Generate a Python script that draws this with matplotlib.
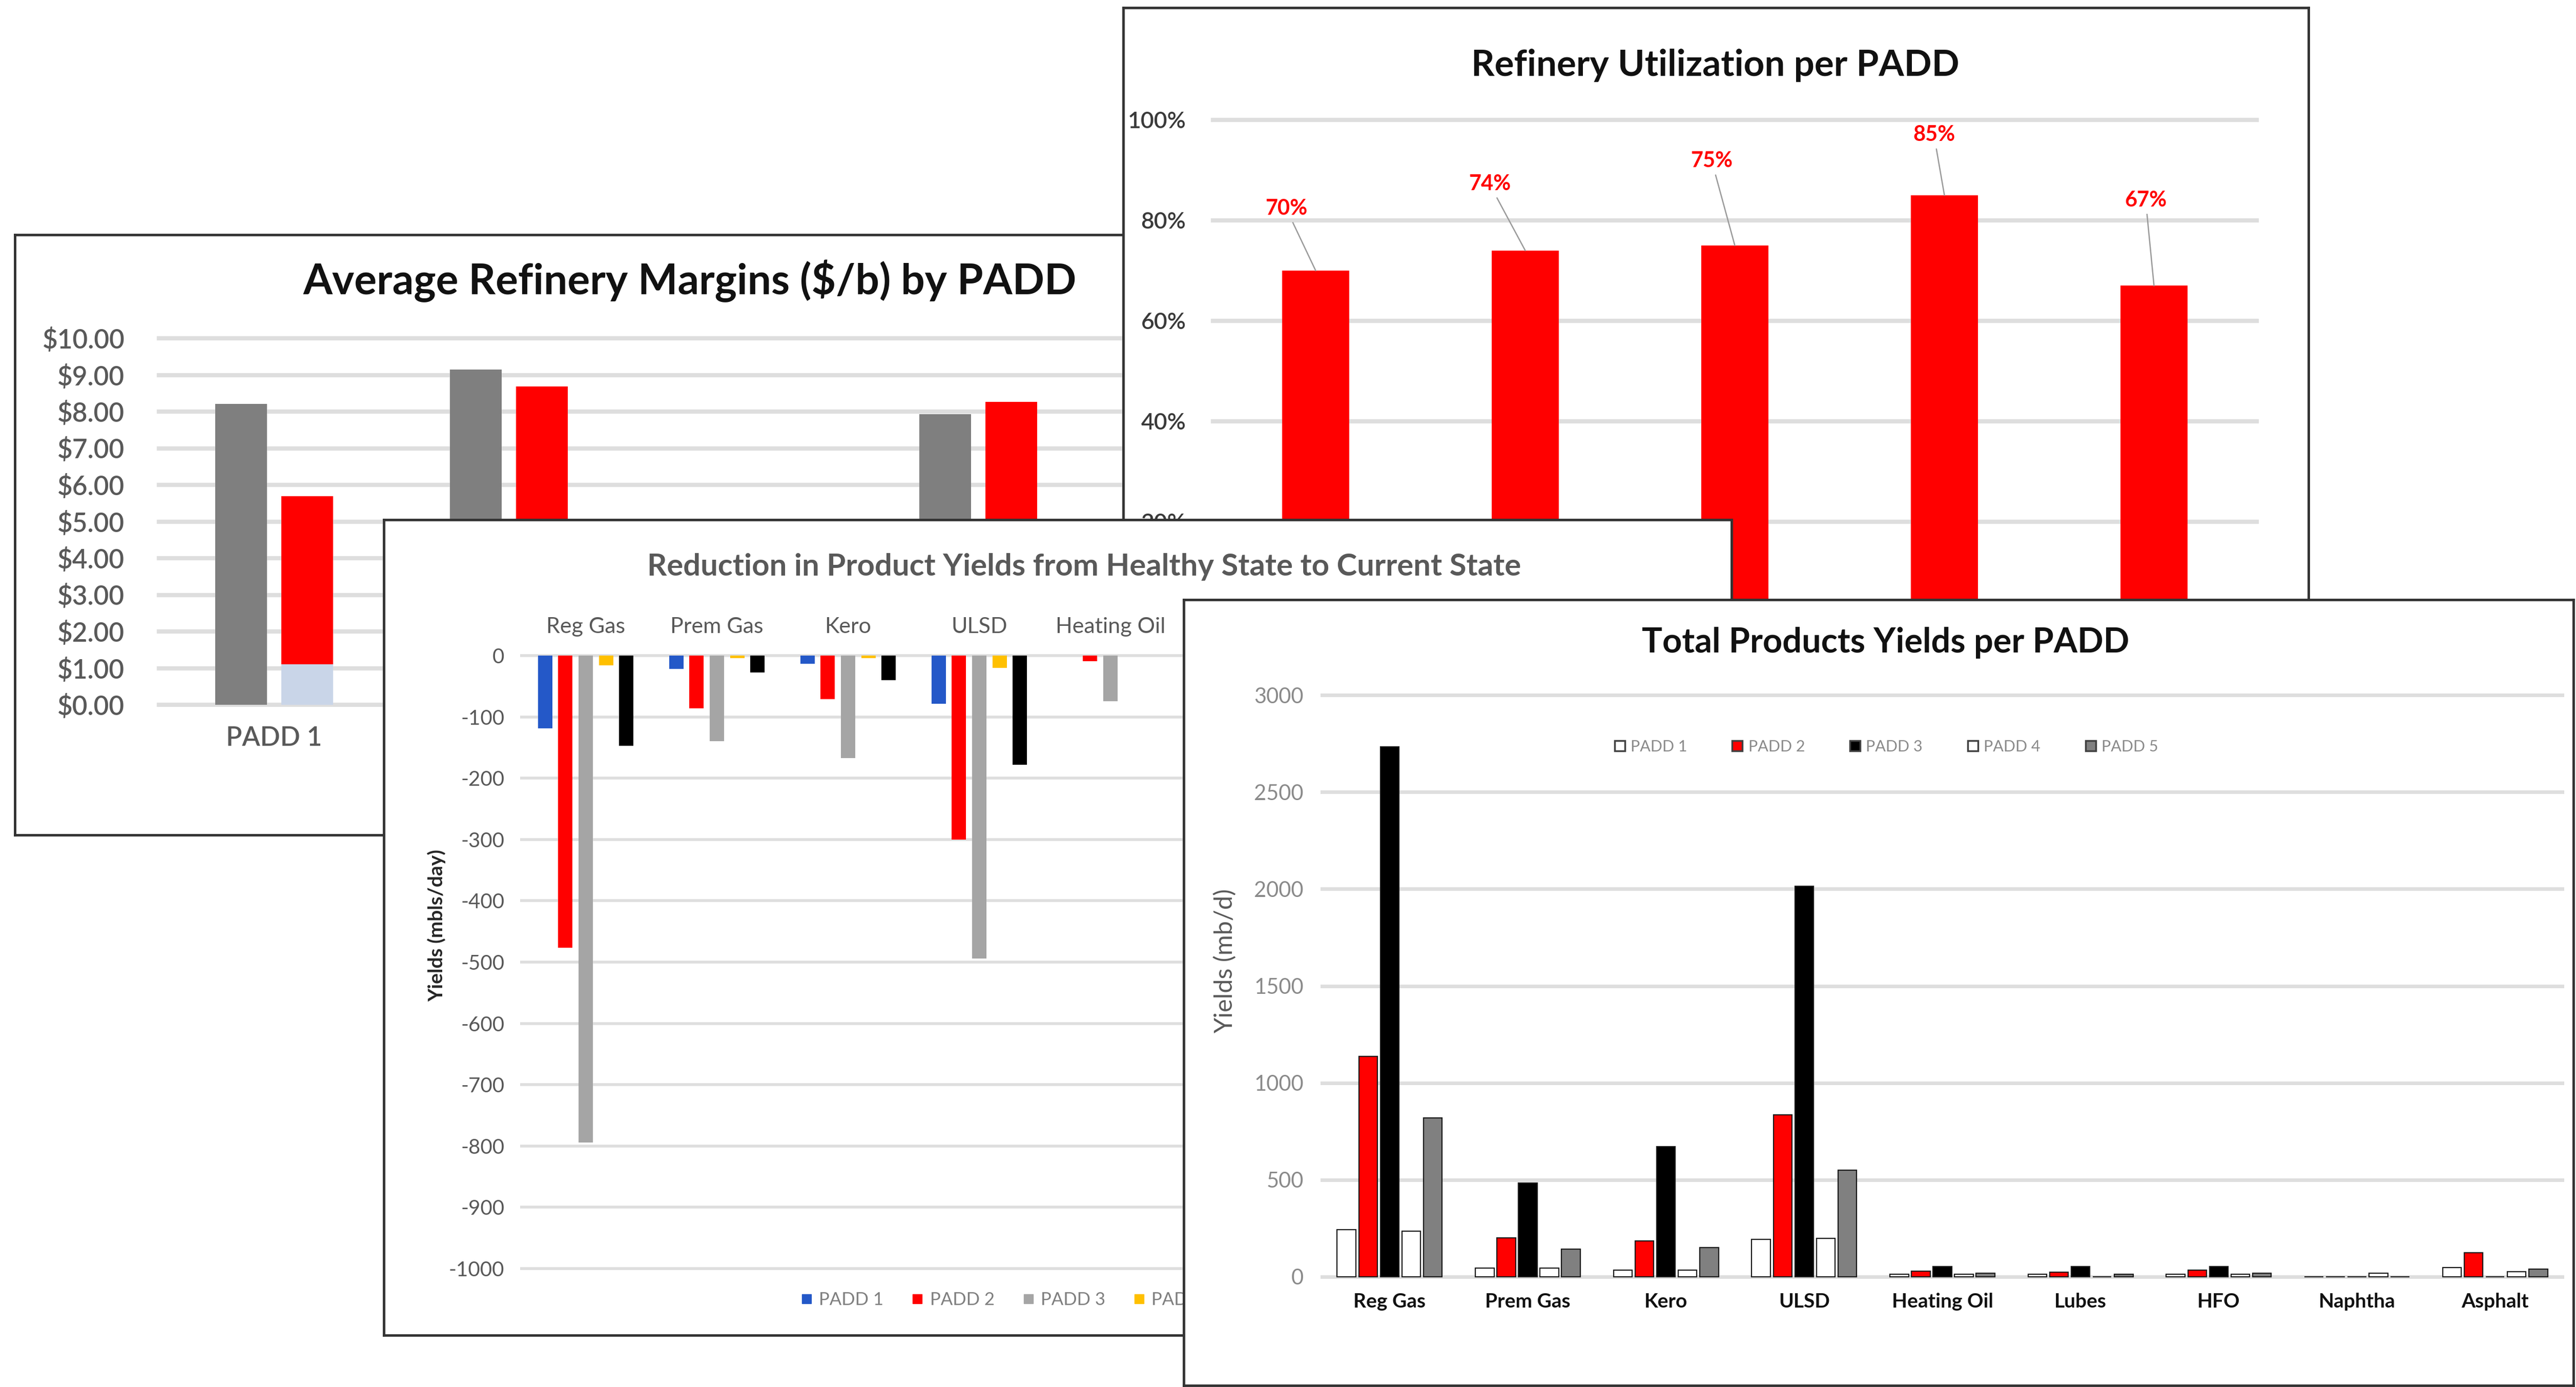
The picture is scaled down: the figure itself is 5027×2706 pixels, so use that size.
import matplotlib
matplotlib.use('Agg')
import matplotlib.pyplot as plt
import numpy as np
from matplotlib.lines import Line2D

plt.rcParams['font.family'] = ['Lato', 'DejaVu Sans']

# ---------------- data ----------------
margin_padds = ['PADD 1', 'PADD 2', 'PADD 3', 'PADD 4', 'PADD 5']
margin_healthy = [8.21, 9.14, 4.30, 7.93, 8.60]
margin_current = [5.69, 8.68, 3.70, 8.26, 7.40]
margin_current_low = [1.10, 0.0, 0.0, 0.0, 0.0]   # light-blue lower part of the PADD 1 bar
margin_ticks = [0, 1, 2, 3, 4, 5, 6, 7, 8, 9, 10]

util_padds = ['PADD 1', 'PADD 2', 'PADD 3', 'PADD 4', 'PADD 5']
util_values = [70, 74, 75, 85, 67]
util_ticks = [20, 40, 60, 80, 100]

products = ['Reg Gas', 'Prem Gas', 'Kero', 'ULSD', 'Heating Oil', 'Lubes', 'HFO', 'Naphtha', 'Asphalt']
red_padd1 = [-119, -22, -13, -79, 0, 0, -3, 0, -5]
red_padd2 = [-477, -86, -71, -300, -9, -4, -6, 0, -20]
red_padd3 = [-794, -140, -167, -494, -74, -10, -15, -5, -30]
red_padd4 = [-16, -4, -4, -20, 0, 0, 0, 0, -3]
red_padd5 = [-147, -28, -40, -178, 0, -5, -5, 0, -10]
red_ticks = [0, -100, -200, -300, -400, -500, -600, -700, -800, -900, -1000]

tot_padd1 = [242, 45, 34, 192, 13, 13, 13, 0, 47]
tot_padd2 = [1137, 202, 184, 835, 29, 24, 34, 0, 123]
tot_padd3 = [2732, 483, 672, 2015, 53, 53, 53, 0, 0]
tot_padd4 = [236, 45, 34, 197, 13, 0, 13, 18, 26]
tot_padd5 = [820, 142, 150, 549, 18, 13, 18, 0, 39]
tot_ticks = [0, 500, 1000, 1500, 2000, 2500, 3000]
legend_names = ['PADD 1', 'PADD 2', 'PADD 3', 'PADD 4', 'PADD 5']

# ---------------- layout helpers ----------------
W, H = 5027, 2706
DPI = 100
fig = plt.figure(figsize=(W / DPI, H / DPI), dpi=DPI)
fig.patch.set_facecolor('white')

GRID = '#dedede'
FRAME = '#333333'


def fig_rect(x0, y0, x1, y1):
    return [x0 / W, 1 - y1 / H, (x1 - x0) / W, (y1 - y0) / H]


def plot_rect(x0, x1, py_a, va, py_b, vb, ylo, yhi):
    ppu = (py_a - py_b) / (vb - va)
    top = py_a - (yhi - va) * ppu
    bottom = py_a - (ylo - va) * ppu
    return fig_rect(x0, top, x1, bottom)


def frame(x0, y0, x1, y1, z):
    ax = fig.add_axes(fig_rect(x0, y0, x1, y1))
    ax.set_zorder(z)
    ax.set_facecolor('white')
    ax.set_xticks([])
    ax.set_yticks([])
    for s in ax.spines.values():
        s.set_color(FRAME)
        s.set_linewidth(3.5)
    return ax


def plot_axes(rect, z, grid_lw):
    ax = fig.add_axes(rect)
    ax.set_zorder(z)
    ax.patch.set_visible(False)
    for s in ax.spines.values():
        s.set_visible(False)
    ax.tick_params(length=0)
    ax.set_axisbelow(True)
    ax.yaxis.grid(True, color=GRID, linewidth=grid_lw)
    return ax


def ftext(ax, x, y, s, **kw):
    return ax.text(x / W, 1 - y / H, s, transform=fig.transFigure, **kw)


# ================= Panel 1: margins =================
f1 = frame(29, 458, 2700, 1629, 1)
ftext(f1, 1346, 548, 'Average Refinery Margins ($/b) by PADD', ha='center', va='center',
      fontsize=59, fontweight='bold', color='#111111')
a1 = plot_axes(plot_rect(306, 2596, 1375, 0, 660, 10, -0.2, 10.2), 1.5, 6)
x1 = np.arange(len(margin_padds))
a1.bar(x1 - 0.141, margin_healthy, width=0.22, color='#7f7f7f')
cur = np.array(margin_current)
low = np.array(margin_current_low)
a1.bar(x1 + 0.141, low, width=0.22, color='#c9d5e8')
a1.bar(x1 + 0.141, cur - low, bottom=low, width=0.22, color='#ff0000')
a1.set_xlim(-0.5, 4.5)
a1.set_ylim(-0.2, 10.2)
a1.set_yticks(margin_ticks)
a1.set_yticklabels(['${:.2f}'.format(v) for v in margin_ticks], fontsize=37, color='#595959',
                   fontweight='semibold')
a1.set_xticks(x1)
a1.set_xticklabels(margin_padds, fontsize=37, color='#595959', fontweight='semibold')
a1.tick_params(axis='y', pad=45)
a1.tick_params(axis='x', pad=20)

# ================= Panel 2: utilization =================
f2 = frame(2192, 15, 4505, 1260, 3)
ftext(f2, 3347, 128, 'Refinery Utilization per PADD', ha='center', va='center',
      fontsize=51, fontweight='bold', color='#111111')
a2 = plot_axes(plot_rect(2363, 4408, 1214, 0, 234, 100, -2, 102), 3.5, 6)
x2 = np.arange(len(util_padds))
a2.bar(x2, util_values, width=0.32, color='#ff0000')
a2.set_xlim(-0.5, 4.5)
a2.set_ylim(-2, 102)
a2.set_yticks(util_ticks)
a2.set_yticklabels(['{}%'.format(v) for v in util_ticks], fontsize=32, color='#3a3a3a',
                   fontweight='semibold')
a2.tick_params(axis='y', pad=35)
a2.set_xticks([])
label_dx = [-0.14, -0.17, -0.11, -0.05, -0.04]
label_y = [82.3, 87.2, 91.8, 97.0, 84.0]
for i, v in enumerate(util_values):
    a2.annotate('{}%'.format(v), xy=(x2[i], v), xytext=(x2[i] + label_dx[i], label_y[i]),
                ha='center', va='center', fontsize=30, fontweight='bold', color='#ff0000',
                arrowprops=dict(arrowstyle='-', color='#9a9a9a', lw=1.8, shrinkA=4, shrinkB=0))

# ================= Panel 3: reduction =================
f3 = frame(749, 1014, 3379, 2605, 5)
ftext(f3, 2116, 1106, 'Reduction in Product Yields from Healthy State to Current State',
      ha='center', va='center', fontsize=43, fontweight='bold', color='#595959')
a3 = plot_axes(plot_rect(1015, 3319, 1279, 0, 2475, -1000, -1010, 8), 5.5, 4)
x3 = np.arange(len(products))
red_series = [red_padd1, red_padd2, red_padd3, red_padd4, red_padd5]
red_colors = ['#2458c8', '#ff0000', '#a5a5a5', '#ffc000', '#000000']
for k, (vals, col) in enumerate(zip(red_series, red_colors)):
    a3.bar(x3 + (k - 2) * 0.155, vals, width=0.11, color=col, label=legend_names[k])
a3.set_xlim(-0.5, len(products) - 0.5)
a3.set_ylim(-1010, 8)
a3.set_yticks(red_ticks)
a3.set_yticklabels([str(v) for v in red_ticks], fontsize=29, color='#595959')
a3.tick_params(axis='y', pad=22)
a3.xaxis.tick_top()
a3.set_xticks(x3)
a3.set_xticklabels(products, fontsize=31, color='#595959')
a3.tick_params(axis='x', pad=20)
# category labels that sit underneath the overlapping "Total Products" panel are not shown
for lab in a3.get_xticklabels()[5:]:
    lab.set_visible(False)
ftext(a3, 852, 1805, 'Yields (mbls/day)', rotation=90, ha='center', va='center',
      fontsize=28, fontweight='bold', color='#262626')
h3 = [Line2D([], [], ls='', marker='s', markersize=13, markerfacecolor=c, markeredgecolor=c)
      for c in red_colors]
a3.legend(h3, legend_names, loc='center left', bbox_to_anchor=(1560 / W, 1 - 2536 / H),
          bbox_transform=fig.transFigure, ncol=5, frameon=False, fontsize=25,
          labelcolor='#7f7f7f', handlelength=0.8, handletextpad=0.3, columnspacing=1.5,
          borderpad=0, borderaxespad=0)

# ================= Panel 4: total yields =================
f4 = frame(2310, 1170, 5022, 2703, 7)
ftext(f4, 3680, 1254, 'Total Products Yields per PADD', ha='center', va='center',
      fontsize=48, fontweight='bold', color='#111111')
a4 = plot_axes(plot_rect(2577, 5004, 2491, 0, 1356, 3000, -20, 3030), 7.5, 5)
x4 = np.arange(len(products))
tot_series = [tot_padd1, tot_padd2, tot_padd3, tot_padd4, tot_padd5]
tot_face = ['#ffffff', '#ff0000', '#000000', '#ffffff', '#808080']
for k, (vals, col) in enumerate(zip(tot_series, tot_face)):
    a4.bar(x4 + (k - 2) * 0.156, vals, width=0.135, color=col, edgecolor='#1a1a1a',
           linewidth=1.6, label=legend_names[k])
a4.set_xlim(-0.5, len(products) - 0.5)
a4.set_ylim(-20, 3030)
a4.set_yticks(tot_ticks)
a4.set_yticklabels([str(v) for v in tot_ticks], fontsize=30, color='#8a8a8a')
a4.tick_params(axis='y', pad=24)
a4.set_xticks(x4)
a4.set_xticklabels(products, fontsize=28, fontweight='bold', color='#111111')
a4.tick_params(axis='x', pad=17)
ftext(a4, 2390, 1875, 'Yields (mb/d)', rotation=90, ha='center', va='center',
      fontsize=35, color='#595959')
h4 = [Line2D([], [], ls='', marker='s', markersize=14, markerfacecolor=c,
             markeredgecolor='#404040', markeredgewidth=2.5) for c in tot_face]
a4.legend(h4, legend_names, loc='center', bbox_to_anchor=(3680 / W, 1 - 1457 / H),
          bbox_transform=fig.transFigure, ncol=5, frameon=False, fontsize=22,
          labelcolor='#8a8a8a', handlelength=0.8, handletextpad=0.3, columnspacing=2.8,
          borderpad=0, borderaxespad=0)

fig.savefig('out.png', dpi=DPI, facecolor='white')
